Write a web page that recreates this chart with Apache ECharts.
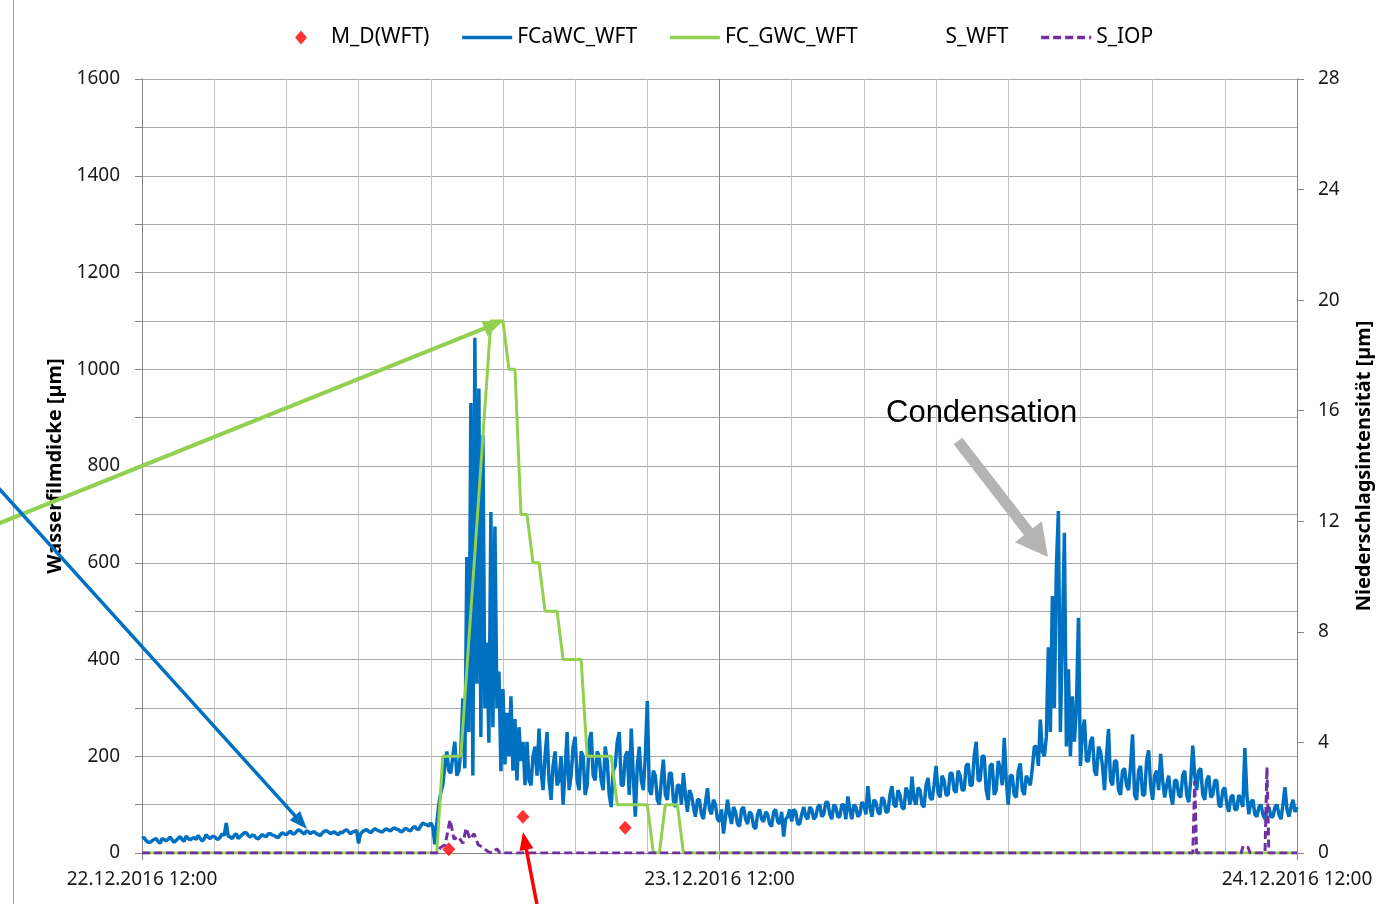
<!DOCTYPE html>
<html>
<head>
<meta charset="utf-8">
<script src="https://cdn.jsdelivr.net/npm/echarts/dist/echarts.min.js"></script>
<style>
  html, body { margin: 0; padding: 0; background: #fff; }
  #main { width: 1396px; height: 904px; }
</style>
</head>
<body>
<div id="main"></div>
<script>
// Wasserfilmdicke / Niederschlagsintensitaet 22.12.2016 12:00 - 24.12.2016 12:00
// x axis in hours after 22.12.2016 12:00

var startTime = new Date(2016, 11, 22, 12, 0).getTime();
var stepHours = 1 / 12; // FCaWC_WFT sampled every 5 min

// FCaWC_WFT [µm], one row per hour (12 values), 0 h .. 48 h
var fcawcWft = [
  30, 32, 26, 22, 22, 25, 28, 30, 24, 20, 30, 28,
  25, 28, 33, 27, 22, 26, 30, 34, 28, 24, 35, 30,
  27, 30, 32, 28, 36, 30, 25, 29, 38, 33, 30, 34,
  34, 30, 28, 33, 40, 36, 62, 35, 33, 30, 36, 40,
  30, 34, 38, 42, 42, 36, 33, 37, 36, 31, 29, 34,
  38, 35, 34, 40, 40, 37, 36, 33, 32, 38, 42, 39,
  38, 42, 45, 40, 40, 44, 48, 46, 42, 39, 46, 44,
  40, 43, 44, 40, 38, 36, 42, 45, 46, 43, 40, 42,
  44, 40, 38, 43, 42, 46, 48, 44, 40, 43, 45, 47,
  20, 40, 44, 47, 48, 45, 42, 46, 50, 48, 46, 44,
  44, 48, 50, 47, 46, 50, 52, 49, 48, 44, 45, 50,
  50, 47, 46, 52, 55, 50, 48, 56, 62, 60, 58, 56,
  62, 55, 18, 60, 100, 125, 140, 180, 210, 170, 165, 200,
  230, 160, 170, 210, 320, 175, 612, 250, 930, 160, 1065, 350,
  960, 240, 863, 300, 435, 228, 705, 260, 675, 300, 375, 169,
  339, 183, 290, 200, 324, 170, 277, 150, 260, 190, 230, 140,
  230, 150, 140, 200, 220, 160, 257, 170, 130, 200, 250, 150,
  110, 180, 210, 140, 150, 200, 100, 170, 250, 130, 160, 220,
  240, 150, 130, 210, 200, 120, 140, 230, 250, 160, 150, 210,
  200, 150, 130, 220, 190, 120, 95, 170, 180, 230, 250, 140,
  140, 200, 210, 120, 257, 160, 75, 180, 220, 150, 130, 200,
  314, 130, 120, 170, 160, 110, 100, 150, 193, 120, 110, 165,
  165, 110, 95, 140, 140, 100, 165, 120, 85, 130, 120, 95,
  75, 110, 110, 80, 70, 105, 134, 90, 80, 110, 100, 70,
  65, 90, 40, 75, 110, 80, 60, 95, 85, 60, 55, 90,
  95, 70, 60, 85, 80, 55, 50, 80, 90, 70, 65, 85,
  80, 60, 55, 85, 90, 65, 60, 85, 34, 70, 75, 90,
  65, 90, 85, 60, 60, 80, 95, 75, 70, 95, 90, 70,
  75, 95, 100, 75, 80, 105, 105, 80, 70, 100, 95, 75,
  75, 100, 100, 70, 117, 90, 70, 100, 95, 75, 80, 105,
  100, 80, 138, 95, 75, 110, 105, 85, 80, 115, 110, 85,
  85, 120, 138, 100, 95, 130, 120, 95, 90, 135, 125, 100,
  158, 110, 100, 135, 130, 100, 95, 140, 155, 115, 110, 140,
  180, 125, 115, 160, 150, 120, 120, 165, 165, 130, 125, 170,
  160, 130, 130, 180, 185, 140, 140, 200, 230, 150, 150, 200,
  200, 130, 110, 180, 185, 120, 130, 190, 175, 140, 238, 150,
  100, 160, 160, 120, 115, 170, 185, 130, 120, 160, 150, 140,
  175, 220, 220, 180, 276, 210, 200, 240, 425, 250, 531, 300,
  590, 707, 250, 450, 662, 220, 380, 200, 324, 230, 300, 486,
  180, 250, 276, 190, 190, 230, 240, 170, 160, 220, 210, 180,
  130, 200, 256, 150, 140, 190, 190, 130, 120, 170, 175, 140,
  130, 180, 245, 120, 110, 170, 180, 120, 120, 190, 212, 140,
  110, 160, 170, 130, 205, 150, 115, 140, 160, 120, 100, 150,
  150, 120, 115, 160, 170, 120, 105, 150, 222, 160, 130, 170,
  175, 120, 110, 150, 160, 115, 120, 150, 150, 100, 95, 130,
  135, 100, 85, 115, 120, 90, 90, 120, 110, 95, 217, 120,
  80, 105, 110, 80, 75, 95, 100, 80, 70, 90, 95, 75,
  75, 95, 100, 80, 70, 100, 136, 90, 75, 95, 110, 85,
  95
];

// FC_GWC_WFT [µm], break points
var gwcHours  = [0, 12.25, 12.5, 13.25, 14.5, 15.0, 15.25, 15.5, 15.75, 16.0, 16.25, 16.5, 16.75, 17.25, 17.5, 18.25, 18.5, 19.5, 19.75, 21.0, 21.25, 21.5, 21.75, 22.25, 22.5, 48];
var gwcValues = [0, 0,     200,  200,   1100, 1100, 1000,  1000, 700,   700,  600,   600,  500,   500,   400,  400,   200,  200,  100,   100,  0,     0,    100,   100,   0,    0];

// S_IOP [µm] (right axis), break points
var iopHours  = [0, 12.3, 12.4, 12.6, 12.8, 12.97, 13.13, 13.34, 13.47, 13.63, 13.8, 13.97, 14.17, 14.38, 14.55, 14.75, 14.88, 43.67, 43.75, 43.83, 45.68, 45.76, 45.97, 46.05, 46.67, 46.75, 46.83, 48];
var iopValues = [0, 0,    0.2,  0.3,  1.2,  0.5,   0.6,   0.35,  0.9,   0.5,   0.7,  0.3,   0.2,   0.05,  0,     0.15,  0,     0,     2.6,   0,     0,     0.25,  0.2,   0,     0,     3.1,   0,     0];

// M_D(WFT) [µm]
var mdHours  = [12.75, 15.83, 20.08];
var mdValues = [8, 75, 52];

// S_WFT (not visible)
var sWft = [];

function pairs(xs, ys) {
  var out = [];
  for (var i = 0; i < xs.length; i++) out.push([xs[i], ys[i]]);
  return out;
}
var fcawcData = fcawcWft.map(function (v, i) { return [i * stepHours, v]; });

function pad(n) { return n < 10 ? '0' + n : '' + n; }
function fmtDate(h) {
  var d = new Date(startTime + h * 3600 * 1000);
  return pad(d.getDate()) + '.' + pad(d.getMonth() + 1) + '.' + d.getFullYear() + ' ' +
    pad(d.getHours()) + ':' + pad(d.getMinutes());
}

// arrow annotation
function arrow(x1, y1, x2, y2, color, w, headLen, headW) {
  var a = Math.atan2(y2 - y1, x2 - x1);
  var bx = x2 - headLen * Math.cos(a), by = y2 - headLen * Math.sin(a);
  var px = -Math.sin(a) * headW / 2, py = Math.cos(a) * headW / 2;
  return [
    { type: 'line', silent: true, z: 100,
      shape: { x1: x1, y1: y1, x2: bx + Math.cos(a) * 2, y2: by + Math.sin(a) * 2 },
      style: { stroke: color, lineWidth: w } },
    { type: 'polygon', silent: true, z: 100,
      shape: { points: [[x2, y2], [bx + px, by + py], [bx - px, by - py]] },
      style: { fill: color } }
  ];
}

var font = 'Noto Sans';
var axisGray = '#868686';
var noDot = { opacity: 0 }; // legend: line only, no marker

var chart = echarts.init(document.getElementById('main'));

var option = {
  backgroundColor: '#fff',
  animation: false,
  textStyle: { fontFamily: font },
  grid: { left: 142, right: 99, top: 79, bottom: 51, containLabel: false },
  legend: {
    left: 295,
    top: 27,
    padding: 0,
    itemWidth: 50,
    itemHeight: 14,
    itemGap: 31,
    lineStyle: { width: 3.5 },
    textStyle: { fontSize: 21, color: '#000', fontFamily: font },
    data: [
      { name: 'M_D(WFT)', icon: 'path://M6,0L12,7L6,14L0,7Z' },
      { name: 'FCaWC_WFT', itemStyle: noDot },
      { name: 'FC_GWC_WFT', itemStyle: noDot },
      { name: 'S_WFT', itemStyle: noDot },
      { name: 'S_IOP', itemStyle: noDot }
    ]
  },
  xAxis: {
    type: 'value',
    min: 0,
    max: 48,
    interval: 24,
    axisLine: { show: true, onZero: false, lineStyle: { color: axisGray, width: 1 } },
    axisTick: { show: true, length: 7, lineStyle: { color: axisGray } },
    axisLabel: { fontSize: 19, color: '#1a1a1a', margin: 17, showMinLabel: true, showMaxLabel: true,
      formatter: function (v) { return fmtDate(v); } },
    splitLine: { show: true, lineStyle: { color: '#8c8c8c', width: 1 } },
    minorTick: { show: false, splitNumber: 8 },
    minorSplitLine: { show: true, lineStyle: { color: '#c3c3c3', width: 1 } }
  },
  yAxis: [
    {
      type: 'value',
      min: 0,
      max: 1600,
      interval: 200,
      name: 'Wasserfilmdicke [µm]',
      nameLocation: 'middle',
      nameRotate: 90,
      nameGap: 76,
      nameTextStyle: { fontSize: 20, fontWeight: 'bold', color: '#000', fontFamily: font },
      axisLine: { show: true, lineStyle: { color: axisGray } },
      axisTick: { show: true, length: 7, inside: false, lineStyle: { color: axisGray } },
      minorTick: { show: true, splitNumber: 2, length: 7, lineStyle: { color: axisGray } },
      axisLabel: { fontSize: 19, color: '#1a1a1a', margin: 22,
        formatter: function (v) { return String(v); } },
      splitLine: { show: true, lineStyle: { color: '#a8a8a8', width: 1 } },
      minorSplitLine: { show: true, lineStyle: { color: '#a8a8a8', width: 1 } }
    },
    {
      type: 'value',
      min: 0,
      max: 28,
      interval: 4,
      position: 'right',
      name: 'Niederschlagsintensität [µm]',
      nameLocation: 'middle',
      nameRotate: 90,
      nameGap: 57,
      nameTextStyle: { fontSize: 20, fontWeight: 'bold', color: '#000', fontFamily: font },
      axisLine: { show: true, lineStyle: { color: axisGray } },
      axisTick: { show: true, length: 7, lineStyle: { color: axisGray } },
      axisLabel: { fontSize: 19, color: '#1a1a1a', margin: 21,
        formatter: function (v) { return String(v); } },
      splitLine: { show: false }
    }
  ],
  series: [
    {
      name: 'M_D(WFT)',
      type: 'scatter',
      symbol: 'diamond',
      symbolSize: [13, 14],
      itemStyle: { color: '#ff0000' },
      data: pairs(mdHours, mdValues)
    },
    {
      name: 'FCaWC_WFT',
      type: 'line',
      symbol: 'none',
      lineStyle: { color: '#0070c0', width: 3.5 },
      itemStyle: { color: '#0070c0' },
      data: fcawcData
    },
    {
      name: 'FC_GWC_WFT',
      type: 'line',
      symbol: 'none',
      lineStyle: { color: '#92d050', width: 3 },
      itemStyle: { color: '#92d050' },
      data: pairs(gwcHours, gwcValues)
    },
    {
      name: 'S_WFT',
      type: 'line',
      yAxisIndex: 1,
      symbol: 'none',
      lineStyle: { color: 'rgba(0,0,0,0)', width: 3 },
      itemStyle: { color: 'rgba(0,0,0,0)' },
      data: sWft
    },
    {
      name: 'S_IOP',
      type: 'line',
      yAxisIndex: 1,
      symbol: 'none',
      lineStyle: { color: '#7030a0', width: 3, type: [8, 4] },
      itemStyle: { color: '#7030a0' },
      data: pairs(iopHours, iopValues)
    }
  ],
  graphic: [].concat(
    [{ type: 'line', silent: true, shape: { x1: 13.5, y1: 0, x2: 13.5, y2: 904 },
       style: { stroke: '#a0a0a0', lineWidth: 1 } }],
    arrow(-5, 525, 503, 321, '#92d050', 4, 20, 16),
    arrow(-5, 484, 307, 829, '#0070c0', 3.5, 18, 14),
    arrow(538, 910, 523, 832, '#ff0000', 3.5, 18, 14),
    arrow(958, 441, 1048, 557, '#b4b4b4', 11, 32, 34),
    [{ type: 'text', silent: true, z: 100, left: 886, top: 398,
       style: { text: 'Condensation', fontSize: 31, fontFamily: 'Liberation Sans', fill: '#000' } }]
  )
};

chart.setOption(option);
</script>
</body>
</html>
